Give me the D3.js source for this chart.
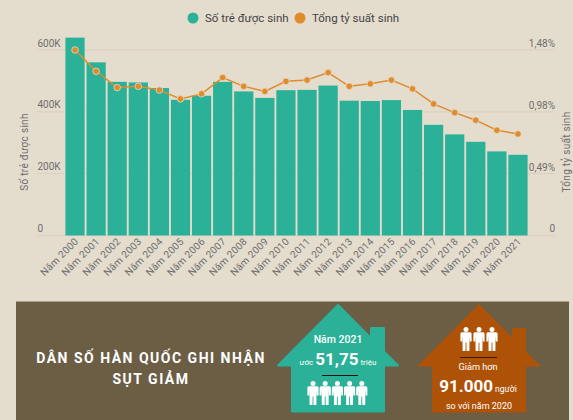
<!DOCTYPE html>
<html>
<head>
<meta charset="utf-8">
<script src="https://cdnjs.cloudflare.com/ajax/libs/d3/7.8.5/d3.min.js"></script>
<style>
  html, body { margin: 0; padding: 0; background: #e4dccd; overflow: hidden; }
  text { font-family: Roboto, sans-serif; }
</style>
</head>
<body>
<svg id="chart" width="573" height="420"></svg>
<script>
var years = ['Năm 2000', 'Năm 2001', 'Năm 2002', 'Năm 2003', 'Năm 2004', 'Năm 2005', 'Năm 2006', 'Năm 2007', 'Năm 2008', 'Năm 2009', 'Năm 2010', 'Năm 2011', 'Năm 2012', 'Năm 2013', 'Năm 2014', 'Năm 2015', 'Năm 2016', 'Năm 2017', 'Năm 2018', 'Năm 2019', 'Năm 2020', 'Năm 2021'];
var births = [640000, 560000, 497000, 495000, 477000, 439000, 452000, 497000, 466000, 445000, 470000, 471000, 485000, 436000, 435000, 438000, 406000, 358000, 327000, 303000, 272000, 261000];
var fertility = [1.48, 1.31, 1.18, 1.19, 1.16, 1.09, 1.13, 1.26, 1.19, 1.15, 1.23, 1.24, 1.30, 1.19, 1.21, 1.24, 1.17, 1.05, 0.98, 0.92, 0.84, 0.81];
var leftTicks = [0, 200000, 400000, 600000];
var leftLabels = ['0', '200K', '400K', '600K'];
var rightTicks = [0, 0.49, 0.98, 1.48];
var rightLabels = ['0', '0,49%', '0,98%', '1,48%'];
var legendNames = ['Số trẻ được sinh', 'Tổng tỷ suất sinh'];

var teal = '#2bb197',
    orange = '#e08b2c',
    brown = '#ae5208',
    panel = '#6b5e45',
    paper = '#e4dccd',
    axisText = '#6e6e6e',
    grid = '#d8cfbf';

var svg = d3.select('#chart');

var x = d3.scaleBand().domain(years).range([65, 528]).paddingInner(0.09).paddingOuter(0.02);
var yLeft = d3.scaleLinear().domain([0, 600000]).range([235.5, 50]);
var yRight = d3.scaleLinear().domain([0, 1.48]).range([235.5, 50]);

// grid lines, labels sit on top of the line
leftTicks.forEach(function (t, i) {
  svg.append('line').attr('x1', 37).attr('x2', 555)
    .attr('y1', yLeft(t)).attr('y2', yLeft(t))
    .attr('stroke', grid).attr('stroke-width', 1);
  svg.append('text').attr('x', 37.5).attr('y', yLeft(t) - 3.5)
    .attr('font-size', 10).attr('fill', axisText).text(leftLabels[i]);
});
rightTicks.forEach(function (t, i) {
  svg.append('text').attr('x', 555).attr('y', yRight(t) - 3.5)
    .attr('text-anchor', 'end').attr('font-size', 10).attr('fill', axisText).text(rightLabels[i]);
});

svg.selectAll('.bar').data(births).enter().append('rect')
  .attr('class', 'bar')
  .attr('x', function (d, i) { return x(years[i]); })
  .attr('y', function (d) { return yLeft(d); })
  .attr('width', x.bandwidth())
  .attr('height', function (d) { return yLeft(0) - yLeft(d); })
  .attr('fill', teal);

var line = d3.line()
  .x(function (d, i) { return x(years[i]) + x.bandwidth() / 2; })
  .y(function (d) { return yRight(d); });

svg.append('path').datum(fertility).attr('d', line)
  .attr('fill', 'none').attr('stroke', orange).attr('stroke-width', 1.5);

svg.selectAll('.dot').data(fertility).enter().append('circle')
  .attr('class', 'dot')
  .attr('cx', function (d, i) { return x(years[i]) + x.bandwidth() / 2; })
  .attr('cy', function (d) { return yRight(d); })
  .attr('r', 3.3)
  .attr('fill', orange)
  .attr('stroke', paper)
  .attr('stroke-opacity', 0.8)
  .attr('stroke-width', 1);

// x labels
years.forEach(function (y) {
  var cx = x(y) + x.bandwidth() / 2;
  svg.append('text')
    .attr('transform', 'translate(' + (cx + 4) + ',242) rotate(-45)')
    .attr('text-anchor', 'end')
    .attr('font-size', 10).attr('letter-spacing', 0.3).attr('fill', axisText).text(y);
});

// axis titles
svg.append('text').attr('transform', 'translate(28,152) rotate(-90)')
  .attr('text-anchor', 'middle').attr('font-size', 10).attr('letter-spacing', 0.3).attr('fill', axisText).text('Số trẻ được sinh');
svg.append('text').attr('transform', 'translate(570,152) rotate(-90)')
  .attr('text-anchor', 'middle').attr('font-size', 10).attr('letter-spacing', 0.3).attr('fill', axisText).text('Tổng tỷ suất sinh');

// legend
svg.append('circle').attr('cx', 193).attr('cy', 18).attr('r', 5.5).attr('fill', teal);
svg.append('text').attr('x', 205).attr('y', 22).attr('font-size', 11.5).attr('fill', '#444').text(legendNames[0]);
svg.append('circle').attr('cx', 300).attr('cy', 18).attr('r', 5.5).attr('fill', orange);
svg.append('text').attr('x', 312).attr('y', 22).attr('font-size', 11.5).attr('fill', '#444').text(legendNames[1]);

// bottom panel
svg.append('rect').attr('x', 16).attr('y', 301.5).attr('width', 553).attr('height', 119).attr('fill', panel);

svg.append('text').attr('x', 151).attr('y', 363).attr('text-anchor', 'middle')
  .attr('font-size', 14).attr('font-weight', 700).attr('letter-spacing', 1.5).attr('fill', '#fff').text('DÂN SỐ HÀN QUỐC GHI NHẬN');
svg.append('text').attr('x', 151).attr('y', 384).attr('text-anchor', 'middle')
  .attr('font-size', 14).attr('font-weight', 700).attr('letter-spacing', 1.5).attr('fill', '#fff').text('SỤT GIẢM');

function house(x0, color, rounded) {
  var inset = rounded ? 1 : 0;
  var top = 304 + inset,
      eave = 366.5 - inset,
      bottom = 412.5 - inset,
      wall = 47 - inset,
      roof = 62 - inset * 2;
  var slope = (eave - top) / roof;
  var p = d3.path();
  p.moveTo(x0, top);
  p.lineTo(x0 + 33, top + 33 * slope);
  p.lineTo(x0 + 33, 328);
  p.lineTo(x0 + wall, 328);
  p.lineTo(x0 + wall, top + wall * slope);
  p.lineTo(x0 + roof, eave);
  p.lineTo(x0 + wall, eave);
  p.lineTo(x0 + wall, bottom);
  p.lineTo(x0 - wall, bottom);
  p.lineTo(x0 - wall, eave);
  p.lineTo(x0 - roof, eave);
  p.closePath();
  svg.append('path').attr('d', p.toString()).attr('fill', color)
    .attr('stroke', color).attr('stroke-width', rounded ? 2 : 0).attr('stroke-linejoin', 'round');
}

function person(cx, top, h) {
  var k = h / 24;
  var g = svg.append('g').attr('transform', 'translate(' + cx + ',' + top + ') scale(' + k + ')').attr('fill', '#fff');
  g.append('circle').attr('cx', 0).attr('cy', 2.4).attr('r', 2.5);
  g.append('path').attr('d', 'M-4.2 5.2Q-5.6 5.4 -5.6 7L-5.6 14.5L-3.9 14.5L-3.6 9L-3.4 24L-0.5 24L-0.4 15.5L0.4 15.5L0.5 24L3.4 24L3.6 9L3.9 14.5L5.6 14.5L5.6 7Q5.6 5.4 4.2 5.2Z');
}

house(338, teal, true);
svg.append('text').attr('x', 338).attr('y', 343).attr('text-anchor', 'middle').attr('font-size', 10.5).attr('font-weight', 500).attr('fill', '#fff').text('Năm 2021');
var t1 = svg.append('text').attr('x', 338).attr('y', 365).attr('text-anchor', 'middle').attr('fill', '#fff');
t1.append('tspan').attr('font-size', 8).text('ước ');
t1.append('tspan').attr('font-size', 17).attr('font-weight', 700).text('51,75');
t1.append('tspan').attr('font-size', 8).text(' triệu');
svg.append('line').attr('x1', 322).attr('x2', 358).attr('y1', 375.5).attr('y2', 375.5).attr('stroke', '#111').attr('stroke-width', 1);
d3.range(5).forEach(function (i) { person(313 + i * 12.2, 381, 24); });

house(479, brown, false);
d3.range(3).forEach(function (i) { person(466 + i * 13, 327, 24); });
svg.append('line').attr('x1', 460).attr('x2', 497).attr('y1', 357.5).attr('y2', 357.5).attr('stroke', '#3a1c04').attr('stroke-width', 1);
svg.append('text').attr('x', 478).attr('y', 370).attr('text-anchor', 'middle').attr('font-size', 9.2).attr('fill', '#fff').text('Giảm hơn');
var t2 = svg.append('text').attr('x', 478).attr('y', 392).attr('text-anchor', 'middle').attr('fill', '#fff');
t2.append('tspan').attr('font-size', 17).attr('font-weight', 700).text('91.000');
t2.append('tspan').attr('font-size', 8.5).text(' người');
svg.append('text').attr('x', 479).attr('y', 409).attr('text-anchor', 'middle').attr('font-size', 9).attr('fill', '#fff').text('so với năm 2020');
</script>
</body>
</html>
